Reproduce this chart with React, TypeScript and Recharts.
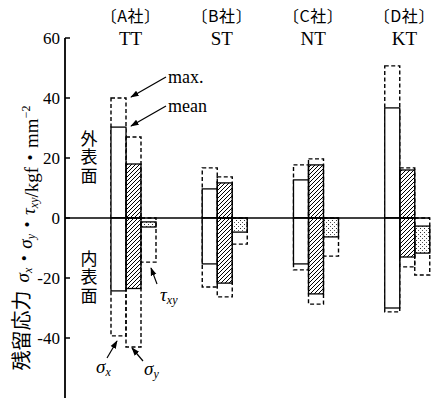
import React from "react";
import { ComposedChart, Bar, XAxis, YAxis, ReferenceLine } from "recharts";

const companies = ["A社", "B社", "C社", "D社"];
const products = ["TT", "ST", "NT", "KT"];
const yTicks = [-60, -40, -20, 0, 20, 40, 60];

// σx (white bars)
const sxOuterMean = [30.3, 9.7, 12.7, 36.7];
const sxOuterMax = [40, 16.7, 17.7, 50.7];
const sxInnerMean = [-24.3, -15.3, -15.3, -30];
const sxInnerMax = [-39.3, -23, -17.3, -31.3];

// σy (hatched bars)
const syOuterMean = [18, 11.7, 17.7, 16];
const syOuterMax = [27, 13.7, 19.7, 16.7];
const syInnerMean = [-23.5, -21.7, -25.3, -13];
const syInnerMax = [-43, -26.3, -28.7, -16.3];

// τxy (dotted bars), inner side only
const txMeanTop = [-1.3, 0, 0, -2.7];
const txMeanBottom = [-3, -4.7, -6.3, -11.7];
const txInnerMax = [-14.7, -8.7, -12.7, -19];

const FONT = "'Liberation Serif', 'Noto Sans CJK JP', serif";
const CJK = "'Noto Sans CJK JP', sans-serif";

type Box = { from: number; to: number; kind: "max" | "mean" };

const data = companies.map((c, i) => ({
  name: c,
  sx: [sxInnerMax[i], sxOuterMax[i]],
  sy: [syInnerMax[i], syOuterMax[i]],
  tx: [txInnerMax[i], 0],
  sxBoxes: [
    { from: 0, to: sxOuterMax[i], kind: "max" },
    { from: 0, to: sxInnerMax[i], kind: "max" },
    { from: 0, to: sxOuterMean[i], kind: "mean" },
    { from: 0, to: sxInnerMean[i], kind: "mean" },
  ] as Box[],
  syBoxes: [
    { from: 0, to: syOuterMax[i], kind: "max" },
    { from: 0, to: syInnerMax[i], kind: "max" },
    { from: 0, to: syOuterMean[i], kind: "mean" },
    { from: 0, to: syInnerMean[i], kind: "mean" },
  ] as Box[],
  txBoxes: [
    { from: 0, to: txInnerMax[i], kind: "max" },
    { from: txMeanTop[i], to: txMeanBottom[i], kind: "mean" },
  ] as Box[],
}));

const makeShape = (key: "sx" | "sy" | "tx", fill: string) => (props: any) => {
  const { x, y, width, height, payload } = props;
  if (!payload) return <g />;
  const [lo, hi] = payload[key];
  const py = (v: number) => y + ((hi - v) / (hi - lo)) * height;
  const boxes: Box[] = payload[key + "Boxes"];
  return (
    <g>
      {boxes.map((b, i) => {
        const y1 = py(Math.max(b.from, b.to));
        const y2 = py(Math.min(b.from, b.to));
        return b.kind === "max" ? (
          <rect key={i} x={x} y={y1} width={width} height={y2 - y1} fill="none"
            stroke="#000" strokeWidth={1.4} strokeDasharray="4 2.5" />
        ) : (
          <rect key={i} x={x} y={y1} width={width} height={y2 - y1} fill={fill}
            stroke="#000" strokeWidth={1.3} />
        );
      })}
    </g>
  );
};

const CompanyTick = (props: any) => {
  const { x, y, payload } = props;
  const i = companies.indexOf(payload.value);
  const cx = x + 20;
  return (
    <g>
      <text x={cx} y={y - 16} textAnchor="middle" fontSize={16} fontFamily={CJK}
        letterSpacing={0.5} fill="#000">
        〔{companies[i]}〕
      </text>
      <text x={cx} y={y + 7} textAnchor="middle" fontSize={19} fontFamily={FONT} fill="#000">
        {products[i]}
      </text>
    </g>
  );
};

const Sub = ({ t, size = 12 }: { t: string; size?: number }) => (
  <>
    <tspan dy={3} fontSize={size} fontStyle="italic">{t}</tspan>
    <tspan dy={-3}></tspan>
  </>
);

const Arrow = ({ x1, y1, x2, y2 }: { x1: number; y1: number; x2: number; y2: number }) => (
  <line x1={x1} y1={y1} x2={x2} y2={y2} stroke="#000" strokeWidth={1.2} markerEnd="url(#arrowHead)" />
);

// vertical CJK label (upright characters, top to bottom)
const Vertical = ({ text, x, y }: { text: string; x: number; y: number }) => (
  <text x={x} y={y} fontSize={17} fontFamily={CJK} fill="#000" letterSpacing={1.5}
    style={{ writingMode: "vertical-rl" }}>
    {text}
  </text>
);

export default function App() {
  return (
    <div style={{ position: "absolute", left: 0, top: 0, width: 435, height: 407, background: "#fff" }}>
      <ComposedChart
        width={435}
        height={407}
        data={data}
        margin={{ top: 0, right: 5, bottom: 9, left: 0 }}
        barGap={0}
      >
        <defs>
          <pattern id="hatch" patternUnits="userSpaceOnUse" width={4} height={4}>
            <path d="M-1,1 l2,-2 M0,4 l4,-4 M3,5 l2,-2" stroke="#000" strokeWidth={1} />
          </pattern>
          <pattern id="dots" patternUnits="userSpaceOnUse" width={4} height={4}>
            <rect x={0} y={0} width={1} height={1} fill="#333" />
            <rect x={2} y={2} width={1} height={1} fill="#555" />
          </pattern>
        </defs>
        <XAxis
          dataKey="name"
          orientation="top"
          height={38}
          axisLine={false}
          tickLine={false}
          tickSize={0}
          tickMargin={0}
          interval={0}
          tick={<CompanyTick />}
        />
        <YAxis
          type="number"
          domain={[-60, 60]}
          ticks={yTicks}
          width={65}
          axisLine={{ stroke: "#000", strokeWidth: 1.8 }}
          tickLine={{ stroke: "#000", strokeWidth: 1.5 }}
          tickSize={-5}
          tickMargin={10}
          tick={{ fill: "#000", fontSize: 17, fontFamily: FONT }}
        />
        <Bar dataKey="spacer" barSize={46} isAnimationActive={false} />
        <Bar dataKey="sx" barSize={15} isAnimationActive={false} shape={makeShape("sx", "#fff")} />
        <Bar dataKey="sy" barSize={15} isAnimationActive={false} shape={makeShape("sy", "url(#hatch)")} />
        <Bar dataKey="tx" barSize={15} isAnimationActive={false} shape={makeShape("tx", "url(#dots)")} />
        <ReferenceLine y={0} stroke="#000" strokeWidth={1.3} />
      </ComposedChart>

      <svg width={435} height={407} style={{ position: "absolute", left: 0, top: 0, pointerEvents: "none" }}>
        <defs>
          <marker id="arrowHead" viewBox="0 0 10 10" refX={9} refY={5} markerWidth={7} markerHeight={7} orient="auto">
            <path d="M0,1.5 L10,5 L0,8.5 z" fill="#000" />
          </marker>
        </defs>
        <text transform="translate(29,238) rotate(-90)" textAnchor="middle" fontSize={19} fontFamily={FONT} fill="#000">
          <tspan fontFamily={CJK} fontSize={20}>残留応力</tspan>
          <tspan dx={8} fontStyle="italic">σ</tspan>
          <Sub t="x" size={12} />
          <tspan>・</tspan>
          <tspan fontStyle="italic">σ</tspan>
          <Sub t="y" size={12} />
          <tspan>・</tspan>
          <tspan fontStyle="italic">τ</tspan>
          <Sub t="xy" size={12} />
          <tspan>/kgf・mm</tspan>
          <tspan dy={-8} fontSize={12}>−2</tspan>
        </text>

        <Vertical text="外表面" x={89} y={130} />
        <Vertical text="内表面" x={89} y={250} />

        <text x={168} y={83} fontSize={18} fontFamily={FONT} fill="#000">max.</text>
        <Arrow x1={166} y1={77} x2={131} y2={97} />
        <text x={168} y={112} fontSize={18} fontFamily={FONT} fill="#000">mean</text>
        <Arrow x1={166} y1={106} x2={131} y2={126} />

        <text x={96} y={373} fontSize={19} fontFamily={FONT} fill="#000">
          <tspan fontStyle="italic">σ</tspan><Sub t="x" />
        </text>
        <Arrow x1={107} y1={358} x2={117} y2={341} />
        <text x={144} y={375} fontSize={19} fontFamily={FONT} fill="#000">
          <tspan fontStyle="italic">σ</tspan><Sub t="y" />
        </text>
        <Arrow x1={143} y1={361} x2={132} y2={348} />
        <text x={160} y={301} fontSize={19} fontFamily={FONT} fill="#000">
          <tspan fontStyle="italic">τ</tspan><Sub t="xy" />
        </text>
        <Arrow x1={157} y1={284} x2={151} y2={268} />
      </svg>
    </div>
  );
}
